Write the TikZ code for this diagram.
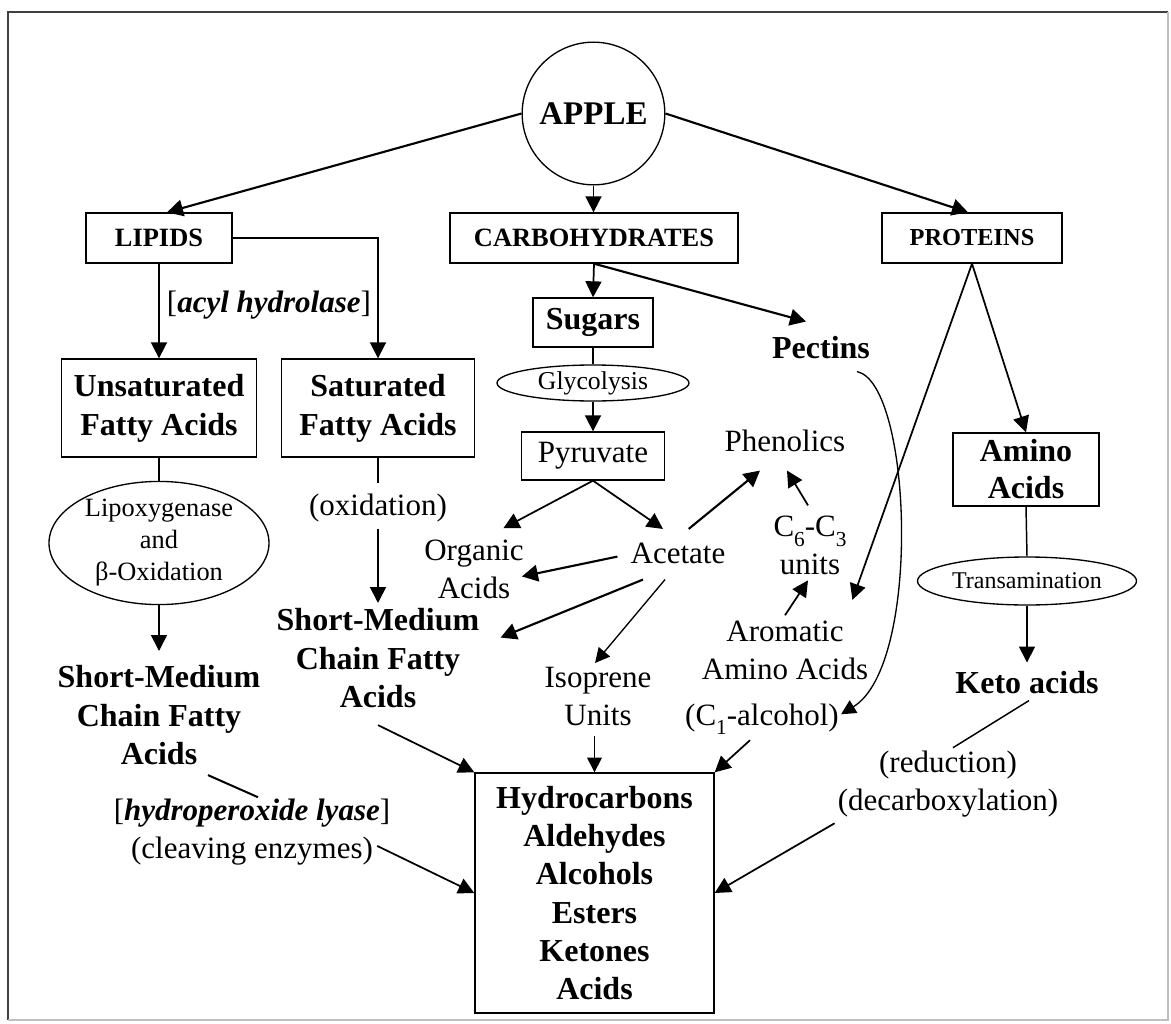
\documentclass[tikz,border=0pt]{standalone}
\usepackage{fontspec}
\setmainfont{Liberation Serif}
\usetikzlibrary{shapes.geometric,arrows.meta}

% type sizes
\newcommand\txtreg{\fontsize{23.25pt}{28.5pt}\selectfont}
\newcommand\txtbold{\fontsize{24pt}{28.9pt}\selectfont\bfseries}
\newcommand\txtcaps{\fontsize{19.8pt}{24pt}\selectfont\bfseries}
\newcommand\txtsmall{\fontsize{19.8pt}{24pt}\selectfont}
% low-set subscript digit
\newcommand\lowsub[1]{\raisebox{-0.7ex}{\fontsize{16pt}{16pt}\selectfont #1}}

\tikzset{
  box/.style={draw, line width=1pt, inner sep=0pt, align=center},
  oval/.style={draw, ellipse, line width=1pt, inner sep=0pt, align=center},
  lbl/.style={inner sep=0pt, align=center},
  arr/.style={-{Triangle[length=12pt,width=12.5pt]}, line width=1.6pt},
  midarr/.style={-{Triangle[length=12pt,width=12pt]}, line width=1.3pt},
  thinarr/.style={-{Triangle[length=11pt,width=11pt]}, line width=1pt},
  link/.style={line width=1.1pt},
}

\begin{document}
\begin{tikzpicture}[x=0.75pt,y=-0.75pt]
\useasboundingbox[fill=white] (0,0) rectangle (1171,1024);

% outer frame
\draw[line width=1.4pt, black!75] (8,1020) -- (8,12) -- (1168,12);
\draw[line width=1pt, black!25] (1168,12) -- (1168,1020) -- (8,1020);

% top level
\node[draw, circle, line width=1pt, minimum size=107pt, inner sep=0pt,
      font=\fontsize{24.75pt}{29pt}\selectfont\bfseries] (apple) at (593.5,113.5) {APPLE};
\node[box, minimum width=109.5pt, minimum height=37.5pt, font=\txtcaps] (lipids) at (159,238) {LIPIDS};
\node[box, minimum width=216pt, minimum height=37.5pt, font=\txtcaps] (carb) at (594,238) {CARBOHYDRATES};
\node[box, minimum width=135pt, minimum height=37.5pt,
      font=\fontsize{18.3pt}{22pt}\selectfont\bfseries] (proteins) at (972,238) {PROTEINS};

% lipid branch
\node[lbl, anchor=base, font=\txtreg] (acyl) at (269,312)
  {[\textbf{\textit{acyl hydrolase}}]};
\node[box, minimum width=146.25pt, minimum height=73.5pt,
      font=\fontsize{24pt}{29.25pt}\selectfont\bfseries] (unsat) at (159,408) {Unsaturated\\Fatty Acids};
\node[box, minimum width=144.75pt, minimum height=73.5pt,
      font=\fontsize{24pt}{29.25pt}\selectfont\bfseries] (sat) at (378,408) {Saturated\\Fatty Acids};
\node[oval, minimum width=165pt, minimum height=91.5pt, font=\txtsmall] (lipox) at (159,543)
  {Lipoxygenase\\and\\β-Oxidation};
\node[lbl, anchor=base, font=\txtreg] (oxid) at (378,515) {(oxidation)};
\node[lbl, anchor=north, font=\txtbold] (leftsm) at (159,665) {Short-Medium\\Chain Fatty\\Acids};
\node[lbl, anchor=north, font=\txtbold] (midsm) at (378,608) {Short-Medium\\Chain Fatty\\Acids};
\node[lbl, anchor=base, font=\txtreg] (hydro) at (252,820)
  {[\textbf{\textit{hydroperoxide lyase}}]};
\node[lbl, anchor=base, font=\txtreg] (cleav) at (252,858) {(cleaving enzymes)};

% carbohydrate branch
\node[box, minimum width=90pt, minimum height=36.75pt, font=\txtbold] (sugars) at (593,322.5) {Sugars};
\node[oval, minimum width=144pt, minimum height=27pt,
      font=\fontsize{19.3pt}{23pt}\selectfont] (glyco) at (593,383) {Glycolysis};
\node[box, minimum width=107.25pt, minimum height=36pt, font=\txtreg] (pyr) at (593,456) {Pyruvate};
\node[lbl, anchor=base, font=\txtbold] (pectins) at (821,358) {Pectins};
\node[lbl, anchor=base, font=\txtreg] (phen) at (785,451) {Phenolics};
\node[lbl, anchor=base, font=\txtreg] (acetate) at (678,563) {Acetate};
\node[lbl, anchor=north, font=\txtreg] (c6c3) at (810,516)
  {C\lowsub{6}-C\lowsub{3}\\units};
\node[lbl, anchor=north, font=\txtreg] (organic) at (474,539.6) {Organic\\Acids};
\node[lbl, anchor=north, font=\txtreg] (aromatic) at (785,620.6) {Aromatic\\Amino Acids};
\node[lbl, anchor=base, font=\txtreg] (c1) at (762,725) {(C\lowsub{1}-alcohol)};
\node[lbl, anchor=north, font=\txtreg] (isoprene) at (598,666.6) {Isoprene\\Units};

% protein branch
\node[box, minimum width=109.5pt, minimum height=54.75pt,
      font=\fontsize{24pt}{27.75pt}\selectfont\bfseries] (amino) at (1026,469.5) {Amino\\Acids};
\node[oval, minimum width=164.25pt, minimum height=36pt,
      font=\fontsize{18pt}{22pt}\selectfont] (transam) at (1027,581) {Transamination};
\node[lbl, anchor=base, font=\txtbold] (keto) at (1027,693) {Keto acids};
\node[lbl, anchor=base, font=\txtreg] (reduc) at (948,772) {(reduction)};
\node[lbl, anchor=base, font=\txtreg] (decarb) at (948,810) {(decarboxylation)};

% volatile products
\node[box, minimum width=179.25pt, minimum height=180pt,
      font=\fontsize{24pt}{28.65pt}\selectfont\bfseries] (final) at (594.5,893)
  {Hydrocarbons\\Aldehydes\\Alcohols\\Esters\\Ketones\\Acids};

% connectors from the apple
\draw[arr] (apple.west) -- ([xshift=6pt]lipids.north);
\draw[arr] (apple.east) -- ([xshift=-3pt]proteins.north);
\draw[midarr] (apple.south) -- (apple.south |- carb.north);

% lipid connectors
\draw[midarr] (lipids.east) -| (sat.north);
\draw[midarr] (lipids.south) -- (unsat.north);
\draw[link] (unsat.south) -- (lipox.north);
\draw[midarr, shorten >=10.5pt] (lipox.south) -- (leftsm.north);
\draw[link, shorten >=8pt] (sat.south) -- (oxid.north);
\draw[midarr, shorten <=5pt, shorten >=3.75pt] (oxid.south) -- (midsm.north);
\draw[link, line width=1.5pt] ([xshift=36.75pt,yshift=-7.5pt]leftsm.south) -- ([xshift=4.5pt,yshift=0.75pt]hydro.north);
\draw[midarr] ([yshift=-12.75pt]midsm.south) -- (final.north west);
\draw[midarr] ([xshift=3pt,yshift=3.5pt]cleav.east) -- (final.west);

% carbohydrate connectors
\draw[midarr] (carb.south) -- (sugars.north);
\draw[arr] (carb.south) -- ([xshift=-11.25pt,yshift=10.5pt]pectins.north);
\draw[link] (sugars.south) -- (glyco.north);
\draw[midarr] (glyco.south) -- (pyr.north);
\draw[midarr] (pyr.south) -- ([xshift=22pt,yshift=8.5pt]organic.north);
\draw[midarr] (pyr.south) -- ([xshift=-11.25pt,yshift=10pt]acetate.north);
\draw[arr] ([xshift=8pt,yshift=10pt]acetate.north) -- ([xshift=-18.75pt,yshift=-14.25pt]phen.south);
\draw[midarr] ([xshift=-1.5pt,yshift=8pt]c6c3.north) -- ([xshift=1.5pt,yshift=-14.25pt]phen.south);
\draw[midarr] ([yshift=4pt]aromatic.north) -- ([xshift=-1.5pt,yshift=-3.75pt]c6c3.south);
\draw[arr] ([xshift=-9.75pt,yshift=-2.75pt]acetate.west) -- ([xshift=-1.5pt,yshift=-5.4pt]organic.east);
\draw[arr] ([xshift=-26.25pt,yshift=-12pt]acetate.south) -- ([xshift=15.75pt,yshift=15.4pt]midsm.east);
\draw[thinarr] ([xshift=-9.75pt,yshift=-12pt]acetate.south) -- ([xshift=-2.25pt,yshift=2.7pt]isoprene.north);
\draw[thinarr, shorten <=7.5pt] (isoprene.south -| final.north) -- (final.north);
\draw[midarr] ([xshift=-9pt,yshift=-3.75pt]c1.south) -- (final.north east);
\draw[thinarr] ([xshift=27pt,yshift=-9.75pt]pectins.south)
  .. controls (912,383) and (922,665) .. ([xshift=1.5pt,yshift=3.75pt]c1.east);

% protein connectors
\draw[midarr] (proteins.south) -- (amino.north);
\draw[midarr] (proteins.south) -- ([xshift=-12pt,yshift=15.5pt]aromatic.north east);
\draw[link] (amino.south) -- (transam.north);
\draw[midarr, shorten >=6pt] (transam.south) -- (keto.north);
\draw[link] ([xshift=1.5pt,yshift=-5.25pt]keto.south) -- ([xshift=3.75pt,yshift=1.9pt]reduc.north);
\draw[midarr] ([xshift=-2.25pt,yshift=-4.75pt]decarb.south west) -- (final.east);
\end{tikzpicture}
\end{document}
